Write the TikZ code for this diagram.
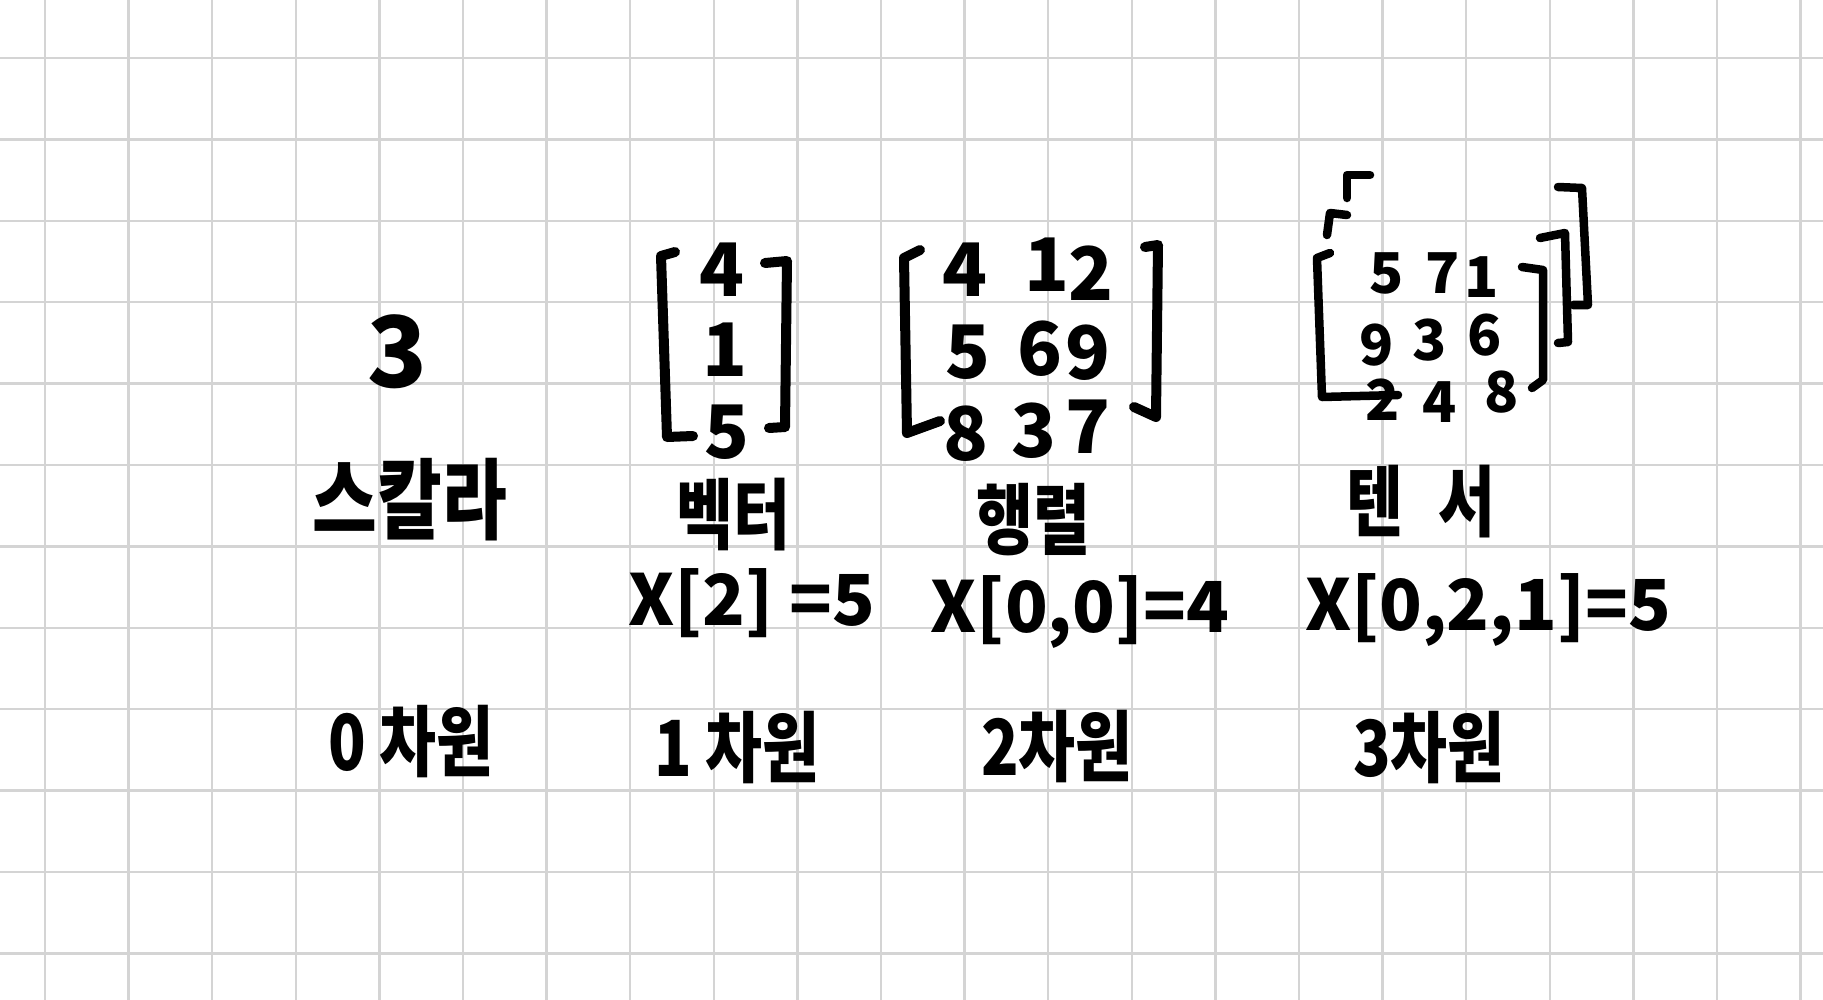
\documentclass[tikz,border=0pt]{standalone}
\usepackage{fontspec}
\newfontfamily\hwk{Noto Sans CJK KR}[FakeStretch=0.8]
\newfontfamily\hwl{Noto Sans CJK KR}
\definecolor{gridc}{RGB}{212,212,212}
\begin{document}
\begin{tikzpicture}[x=0.01cm,y=-0.01cm,
  gridline/.style={draw=gridc,line width=0.025cm},
  kr/.style={font=\fontsize{22}{24}\selectfont\hwk\bfseries,inner sep=0pt},
  krbig/.style={font=\fontsize{25}{27}\selectfont\hwk\bfseries,inner sep=0pt},
  idx/.style={font=\fontsize{20}{22}\selectfont\hwl\bfseries,inner sep=0pt},
  dig/.style={font=\fontsize{21}{22}\selectfont\hwl\bfseries,inner sep=0pt},
  tdig/.style={font=\fontsize{16}{17}\selectfont\hwl\bfseries,inner sep=0pt},
  brk/.style={draw=black,line width=0.1cm,line cap=round,line join=round},
  tbrk/.style={draw=black,line width=0.085cm,line cap=round,line join=round}]
\useasboundingbox (0,0) rectangle (1823,1000);
\fill[white] (0,0) rectangle (1823,1000);
% grid
\foreach \i in {0,...,21} \draw[gridline] ({45+83.6*\i},0) -- ({45+83.6*\i},1000);
\foreach \j in {0,...,11} \draw[gridline] (0,{58+81.4*\j}) -- (1823,{58+81.4*\j});
% scalar
\node[inner sep=0pt,font=\fontsize{28}{30}\selectfont\hwl\bfseries] (s3) at (397,352) {3};
\node[krbig] (lscalar) at (410,500) {스칼라};
% vector
\draw[brk] (675,252) -- (661,256) -- (667,437) -- (693,436);
\draw[brk] (765,263) -- (787,261) -- (785,427) -- (769,428);
\node[dig] (v1) at (722,270) {4};
\node[dig] (v2) at (725,350) {1};
\node[dig] (v3) at (727,432) {5};
\node[kr] (lvector) at (733,515) {벡터};
% matrix
\draw[brk] (920,250) -- (904,258) -- (907,433) -- (940,421);
\draw[brk] (1145,247) -- (1158,245) -- (1156,417) -- (1134,407);
\node[dig] (m11) at (965,270) {4};
\node[dig] (m12) at (1047,265) {1};
\node[dig] (m13) at (1091,273) {2};
\node[dig] (m21) at (968,352) {5};
\node[dig] (m22) at (1040,349) {6};
\node[dig] (m23) at (1088,353) {9};
\node[dig] (m31) at (966,434) {8};
\node[dig] (m32) at (1034,431) {3};
\node[dig] (m33) at (1088,427) {7};
\node[kr] (lmatrix) at (1033,520) {행렬};
% tensor
\draw[tbrk] (1330,253) -- (1317,258) -- (1322,397) -- (1398,395);
\draw[tbrk] (1327,235) -- (1330,213) -- (1347,215);
\draw[tbrk] (1347,198) -- (1347,175) -- (1370,175);
\draw[tbrk] (1522,267) -- (1543,270) -- (1543,380) -- (1532,388);
\draw[tbrk] (1540,238) -- (1565,233) -- (1568,342) -- (1558,343);
\draw[tbrk] (1558,187) -- (1582,188) -- (1588,305) -- (1573,305);
\node[tdig] (t11) at (1387,273) {5};
\node[tdig] (t12) at (1443,273) {7};
\node[tdig] (t13) at (1482,277) {1};
\node[tdig] (t21) at (1377,345) {9};
\node[tdig] (t22) at (1430,340) {3};
\node[tdig] (t23) at (1485,335) {6};
\node[tdig] (t31) at (1383,400) {2};
\node[tdig] (t32) at (1440,402) {4};
\node[tdig] (t33) at (1502,392) {8};
\node[kr] (ltensor) at (1421,502) {\spaceskip=0.45em 텐 서};
% indices
\node[idx] (ivec) at (752,603) {X[2] =5};
\node[idx] (imat) at (1080,612) {X[0,0]=4};
\node[idx] (iten) at (1488,610) {X[0,2,1]=5};
% dimensions
\node[kr] (d0) at (411,742) {0 차원};
\node[kr] (d1) at (737,748) {1 차원};
\node[kr] (d2) at (1057,747) {2차원};
\node[kr] (d3) at (1429,748) {3차원};
\end{tikzpicture}
\end{document}
